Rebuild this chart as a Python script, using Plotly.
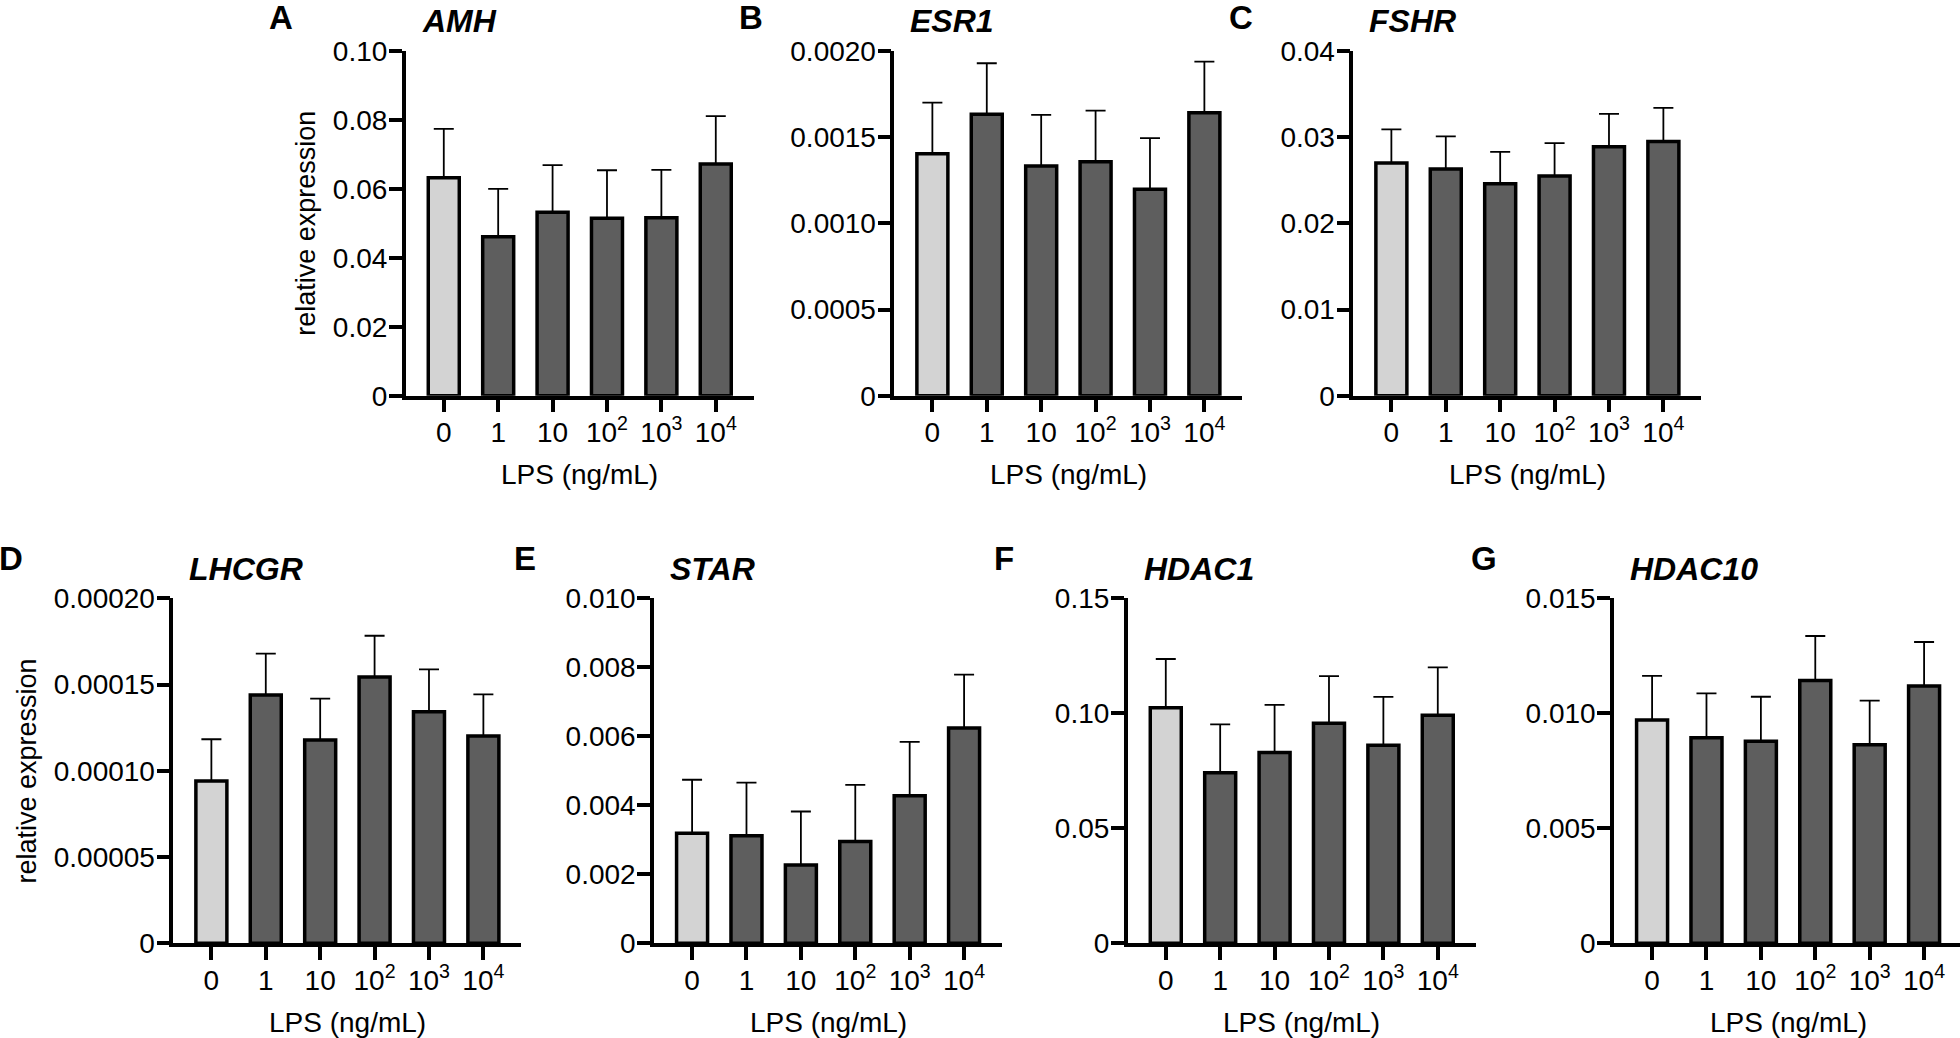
import plotly.graph_objects as go

W, H = 1960, 1038

# LPS doses (x categories)
doses = ['0', '1', '10', '10<sup>2</sup>', '10<sup>3</sup>', '10<sup>4</sup>']

# mean relative expression and upper error (SEM) per gene
amh_mean = [0.0632, 0.0461, 0.0532, 0.0515, 0.0516, 0.0672]
amh_err = [0.0142, 0.0139, 0.0137, 0.0139, 0.0139, 0.0139]

esr1_mean = [0.001404, 0.001633, 0.001333, 0.001358, 0.001198, 0.001642]
esr1_err = [0.000296, 0.000296, 0.000296, 0.000296, 0.000297, 0.000296]

fshr_mean = [0.0270, 0.0263, 0.0246, 0.0255, 0.0289, 0.0295]
fshr_err = [0.0039, 0.0038, 0.0037, 0.0038, 0.0038, 0.0039]

lhcgr_mean = [0.0000941, 0.0001440, 0.0001179, 0.0001544, 0.0001343, 0.0001202]
lhcgr_err = [0.0000242, 0.0000239, 0.0000239, 0.0000239, 0.0000245, 0.0000241]

star_mean = [0.00319, 0.00312, 0.00227, 0.00295, 0.00428, 0.00624]
star_err = [0.00155, 0.00154, 0.00155, 0.00164, 0.00156, 0.00155]

hdac1_mean = [0.1024, 0.0742, 0.0830, 0.0957, 0.0861, 0.0991]
hdac1_err = [0.0212, 0.0210, 0.0207, 0.0205, 0.0210, 0.0209]

hdac10_mean = [0.00971, 0.00894, 0.00878, 0.01143, 0.00863, 0.01119]
hdac10_err = [0.00192, 0.00193, 0.00194, 0.00193, 0.00192, 0.00191]

# y tick values / labels per gene
amh_ticks = [0, 0.02, 0.04, 0.06, 0.08, 0.10]
amh_ticktext = ['0', '0.02', '0.04', '0.06', '0.08', '0.10']
esr1_ticks = [0, 0.0005, 0.0010, 0.0015, 0.0020]
esr1_ticktext = ['0', '0.0005', '0.0010', '0.0015', '0.0020']
fshr_ticks = [0, 0.01, 0.02, 0.03, 0.04]
fshr_ticktext = ['0', '0.01', '0.02', '0.03', '0.04']
lhcgr_ticks = [0, 0.00005, 0.00010, 0.00015, 0.00020]
lhcgr_ticktext = ['0', '0.00005', '0.00010', '0.00015', '0.00020']
star_ticks = [0, 0.002, 0.004, 0.006, 0.008, 0.010]
star_ticktext = ['0', '0.002', '0.004', '0.006', '0.008', '0.010']
hdac1_ticks = [0, 0.05, 0.10, 0.15]
hdac1_ticktext = ['0', '0.05', '0.10', '0.15']
hdac10_ticks = [0, 0.005, 0.010, 0.015]
hdac10_ticktext = ['0', '0.005', '0.010', '0.015']

genes = ['AMH', 'ESR1', 'FSHR', 'LHCGR', 'STAR', 'HDAC1', 'HDAC10']
letters = ['A', 'B', 'C', 'D', 'E', 'F', 'G']
means = [amh_mean, esr1_mean, fshr_mean, lhcgr_mean, star_mean, hdac1_mean, hdac10_mean]
errs = [amh_err, esr1_err, fshr_err, lhcgr_err, star_err, hdac1_err, hdac10_err]
ticks = [amh_ticks, esr1_ticks, fshr_ticks, lhcgr_ticks, star_ticks, hdac1_ticks, hdac10_ticks]
ticktexts = [amh_ticktext, esr1_ticktext, fshr_ticktext, lhcgr_ticktext,
             star_ticktext, hdac1_ticktext, hdac10_ticktext]

# panel geometry in pixels: y-axis x position, row, letter offset
panels = [
    dict(ax=405.7, row=0, letter_dx=-136),
    dict(ax=894.3, row=0, letter_dx=-154),
    dict(ax=1353.3, row=0, letter_dx=-123),
    dict(ax=173.3, row=1, letter_dx=-173),
    dict(ax=654.0, row=1, letter_dx=-139),
    dict(ax=1127.7, row=1, letter_dx=-133),
    dict(ax=1614.0, row=1, letter_dx=-142),
]
rows = [dict(top=51.0, zero=395.7, letter_y=17, title_y=21),
        dict(top=598.3, zero=943.3, letter_y=558, title_y=569)]
step = 54.4          # px per category
xlo = -0.7
axis_w = 6.4 * step

font_family = 'Arial, Liberation Sans, sans-serif'
light = '#d3d3d3'
dark = '#5e5e5e'

fig = go.Figure()
annotations = []

for i, (gene, m, e) in enumerate(zip(genes, means, errs)):
    p = panels[i]
    r = rows[p['row']]
    n = str(i + 1) if i > 0 else ''
    x0 = p['ax']
    x1 = min(x0 + axis_w, W)
    xhi = xlo + (x1 - x0) / step

    fig.add_trace(go.Bar(
        x=doses, y=m,
        marker=dict(color=[light] + [dark] * 5, line=dict(color='black', width=3.5)),
        width=0.57,
        error_y=dict(type='data', array=e, arrayminus=[0] * len(e), symmetric=False,
                     color='black', thickness=1.8, width=10),
        xaxis='x' + n, yaxis='y' + n, showlegend=False,
    ))

    fig.update_layout(**{
        'xaxis' + n: dict(
            domain=[x0 / W, x1 / W], anchor='y' + n, type='category',
            range=[xlo, xhi], showline=True, linecolor='black', linewidth=3.5,
            ticks='outside', ticklen=13, tickwidth=3.5, tickcolor='black',
            ticklabelstandoff=-4,
            showgrid=False, zeroline=False, fixedrange=True, automargin=False,
            tickfont=dict(family=font_family, size=28, color='black'),
        ),
        'yaxis' + n: dict(
            domain=[1 - r['zero'] / H, 1 - r['top'] / H], anchor='x' + n,
            range=[0, ticks[i][-1]], tickvals=ticks[i], ticktext=ticktexts[i],
            showline=True, linecolor='black', linewidth=3.5,
            ticks='outside', ticklen=13, tickwidth=3.5, tickcolor='black',
            ticklabelstandoff=-4,
            showgrid=False, zeroline=False, fixedrange=True, automargin=False,
            tickfont=dict(family=font_family, size=28, color='black'),
        ),
    })

    # x-axis title
    annotations.append(dict(
        text='LPS (ng/mL)', x=(x0 + axis_w / 2) / W, y=1 - (r['zero'] + 79) / H,
        xref='paper', yref='paper', showarrow=False, xanchor='center', yanchor='middle',
        font=dict(family=font_family, size=28, color='black')))
    # gene title
    annotations.append(dict(
        text='<b><i>' + gene + '</i></b>', x=(x0 + 14) / W, y=1 - r['title_y'] / H,
        xref='paper', yref='paper', showarrow=False, xanchor='left', yanchor='middle',
        font=dict(family=font_family, size=32, color='black')))
    # panel letter
    annotations.append(dict(
        text='<b>' + letters[i] + '</b>', x=(x0 + p['letter_dx'] - 3) / W, y=1 - r['letter_y'] / H,
        xref='paper', yref='paper', showarrow=False, xanchor='left', yanchor='middle',
        font=dict(family=font_family, size=33, color='black')))

# y-axis titles on first panel of each row
for i, cx in [(0, 306.5), (3, 26.7)]:
    r = rows[panels[i]['row']]
    annotations.append(dict(
        text='relative expression', x=cx / W, y=1 - (r['top'] + r['zero']) / 2 / H,
        xref='paper', yref='paper', showarrow=False, textangle=-90,
        xanchor='center', yanchor='middle',
        font=dict(family=font_family, size=27, color='black')))

fig.update_layout(
    width=W, height=H,
    margin=dict(l=0, r=0, t=0, b=0, pad=0),
    paper_bgcolor='white', plot_bgcolor='white',
    bargap=0.38,
    annotations=annotations,
    font=dict(family=font_family, color='black'),
)

# drop the default page margin so the figure sits at the window's top-left corner
fig.write_html('out.html', config={'displayModeBar': False},
               post_script="document.body.style.margin='0';document.body.style.overflow='hidden';")
